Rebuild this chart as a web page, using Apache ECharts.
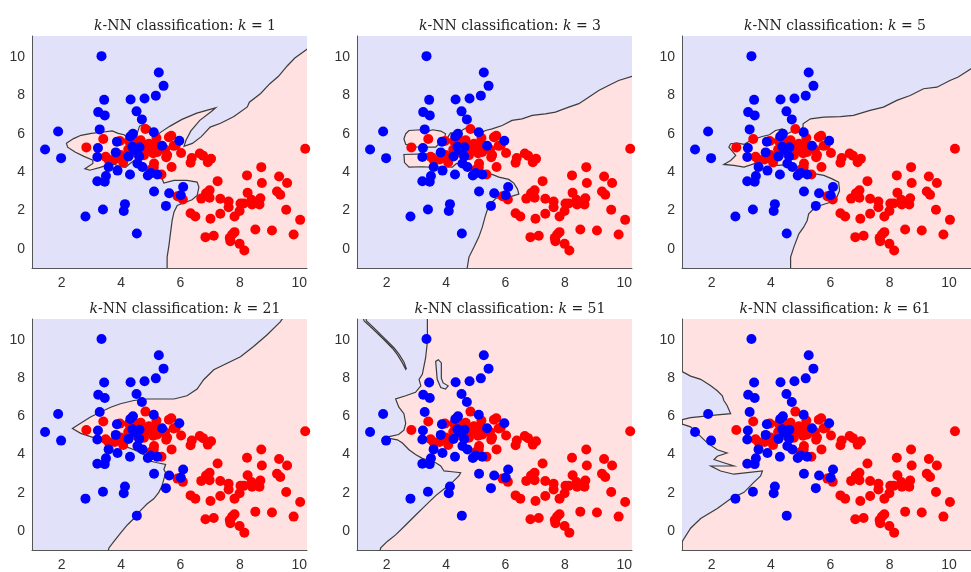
<!DOCTYPE html>
<html>
<head>
<meta charset="utf-8">
<script src="https://cdn.jsdelivr.net/npm/echarts@6/dist/echarts.min.js"></script>
<style>
  html, body { margin: 0; padding: 0; background: #ffffff; }
  #chart { width: 971px; height: 572px; }
</style>
</head>
<body>
<div id="chart"></div>
<script>
// ---- observations (two classes) ----
const blueX = [1.44, 1.88, 1.98, 2.80, 3.34, 3.43, 3.23, 3.45, 3.28, 3.22, 3.20, 3.20, 3.45, 3.49, 3.58, 3.39, 3.86, 3.82, 3.88, 4.13, 4.09, 4.32, 4.79, 4.52, 4.70, 5.17, 5.27, 5.43, 5.10, 4.40, 4.31, 4.38, 4.45, 4.25, 4.30, 4.62, 4.61, 4.55, 4.72, 4.90, 5.00, 5.22, 5.38, 5.11, 5.62, 5.51, 5.96, 6.09, 6.01, 4.53];
const blueY = [5.18, 6.12, 4.73, 1.69, 10.05, 7.77, 7.13, 6.96, 6.23, 5.26, 4.79, 3.52, 3.50, 3.80, 4.27, 2.05, 5.59, 5.03, 4.08, 2.33, 1.97, 7.79, 7.84, 7.17, 6.75, 7.99, 9.20, 8.50, 6.08, 6.00, 5.86, 5.32, 5.16, 4.82, 3.88, 5.30, 4.82, 4.45, 4.27, 3.82, 3.95, 3.88, 5.38, 2.99, 2.90, 2.24, 5.64, 3.22, 2.79, 0.80];

const redX = [2.83, 3.40, 3.48, 3.58, 3.78, 3.84, 3.96, 3.98, 4.07, 4.26, 4.24, 4.37, 4.58, 4.66, 4.82, 4.79, 4.86, 4.77, 4.94, 5.01, 5.06, 5.13, 5.19, 5.08, 5.22, 5.11, 5.10, 5.01, 5.36, 5.48, 5.52, 5.55, 5.61, 5.69, 5.70, 5.77, 5.84, 6.02, 4.50,
  6.38, 6.34, 6.65, 6.76, 6.92, 7.03, 5.90, 6.08,
  10.20, 8.72, 8.24, 7.25, 8.74, 9.32, 9.59, 9.25, 9.36, 8.26, 6.70, 6.86, 6.98, 6.98, 7.34, 7.62, 7.62, 8.02, 8.13, 8.39, 8.41, 8.69, 8.66, 7.99, 7.82, 7.34, 6.34, 6.50, 7.01, 9.56, 10.03, 8.52, 9.08, 9.81, 6.84, 7.12, 7.82, 7.74, 7.66, 7.68, 7.99, 8.15];
const redY = [5.29, 5.73, 4.80, 4.64, 4.66, 4.78, 5.62, 4.89, 4.50, 5.62, 5.18, 5.71, 5.60, 5.66, 6.25, 5.12, 5.30, 4.88, 5.48, 5.22, 5.32, 5.44, 5.78, 4.99, 5.05, 4.45, 4.25, 4.14, 3.88, 5.18, 4.78, 4.89, 5.82, 5.90, 4.27, 5.37, 5.40, 5.00, 5.00,
  4.74, 4.49, 4.97, 4.86, 4.52, 4.70, 2.74, 2.57,
  5.22, 4.26, 3.83, 3.53, 3.43, 3.77, 3.43, 2.99, 2.82, 2.92, 2.62, 2.90, 3.05, 2.66, 2.61, 2.47, 2.17, 2.36, 2.36, 2.56, 2.31, 2.64, 2.31, 1.97, 1.69, 1.83, 1.86, 1.69, 1.57, 2.04, 1.51, 1.01, 0.96, 0.75, 0.61, 0.68, 0.87, 0.75, 0.57, 0.40, 0.26, -0.09];

// ---- panel settings ----
const kValues = [1, 3, 5, 21, 51, 61];
const xTicks = [2, 4, 6, 8, 10];
const yTicks = [0, 2, 4, 6, 8, 10];

// ---- decision boundaries (data units) ----
// k = 1
const k1Edge = [[5.55,-1.5],[5.55,-0.43],[5.61,0.17],[5.66,0.78],[5.72,1.48],[5.78,1.91],[5.89,2.26],[6.17,2.43],[6.39,2.56],[6.56,2.78],[6.62,3.22],[6.56,3.48],[6.22,3.57],[5.78,3.57],[5.44,3.43],[5.38,3.65],[5.31,3.91],
  [5.10,4.08],[4.95,4.05],[4.82,4.20],[4.80,4.40],[4.62,4.62],[4.45,4.62],[4.30,4.45],[4.15,4.25],[3.95,4.30],[3.75,4.42],[3.55,4.38],[3.30,4.25],[2.95,4.10],[2.78,4.18],[3.05,4.45],[3.05,4.62],[2.75,4.82],[2.45,5.05],[2.20,5.30],[2.16,5.50],[2.40,5.75],[2.65,5.92],[3.00,6.02],[3.35,6.08],[3.70,6.15],[3.90,6.02],[4.10,5.95],[4.25,5.75],[4.45,5.80],[4.55,6.05],[4.62,6.40],[4.80,6.50],[4.98,6.35],[5.00,5.98],[5.20,5.92],[5.35,6.10],[5.65,6.40],[6.05,6.75],[6.55,7.08],[7.18,7.35],[7.05,7.18],[6.65,6.70],[6.35,6.15],[6.18,5.65],[6.12,5.35],[6.40,5.50],[6.70,5.85],[7.00,6.35],[7.35,6.55],[7.80,6.90],[8.25,7.40],[8.32,7.65],[8.70,8.10],[9.00,8.60],[9.30,9.00],[9.60,9.55],[9.85,9.95],[10.30,10.45],[10.8,10.9]];
const k1Close = [[11.5,12],[11.5,-2],[5.55,-2]];

// k = 3
const k3Edge = [[4.66,-1.5],[4.77,-0.43],[4.94,0.09],[5.10,0.61],[5.22,1.13],[5.31,1.65],[5.38,2.0],[5.50,2.35],[5.66,2.61],[5.89,2.75],[6.17,2.72],[6.45,2.85],[6.40,3.13],[6.28,3.43],[6.11,3.62],[5.78,3.74],[5.55,3.88],[5.33,3.90],[5.10,4.05],[4.90,4.20],[4.75,4.28],[4.55,4.40],[4.35,4.45],[4.21,4.26],[3.9,4.28],[3.6,4.25],[3.2,4.28],[2.75,4.26],[2.6,4.5],[2.58,4.92],[3.3,4.95],[4.0,4.92],[4.21,4.95],[4.30,5.10],[4.25,5.35],[4.15,5.55],[4.05,5.80],[4.15,6.05],[4.40,6.02],[4.55,6.20],[4.77,6.38],[4.90,6.12],[5.15,6.02],[5.33,6.17],[5.55,6.26],[5.89,6.43],[6.22,6.70],[6.56,6.78],[6.90,6.96],[7.34,7.04],[7.68,7.13],[8.13,7.39],[8.47,7.57],[8.80,7.91],[9.14,8.26],[9.47,8.52],[9.81,8.78],[10.26,8.99],[10.8,9.1]];
const k3Close = [[11.5,12],[11.5,-2],[4.66,-2]];
const k3Island = [[2.64,6.0],[2.75,6.17],[3.14,6.21],[3.31,6.09],[3.54,6.21],[3.82,6.14],[3.98,6.0],[3.93,5.65],[3.76,5.48],[3.65,5.30],[3.31,5.30],[2.95,5.32],[2.64,5.45],[2.58,5.74]];

// k = 5
const k5Edge = [[4.66,-1.5],[4.66,-0.43],[4.77,0.09],[4.94,0.78],[5.10,1.13],[5.22,1.48],[5.27,1.83],[5.44,2.09],[5.66,2.26],[6.0,2.43],[6.22,2.70],[6.31,3.04],[6.28,3.48],[6.06,3.65],[5.78,3.83],[5.50,3.91],[5.30,3.95],[5.10,4.09],[4.77,4.30],[4.50,4.38],[4.21,4.35],[3.76,4.61],[3.42,4.43],[3.09,4.26],[2.75,4.35],[2.41,4.40],[2.64,4.61],[2.81,4.87],[2.58,5.30],[2.64,5.48],[2.86,5.51],[3.10,5.45],[3.31,5.65],[3.70,5.86],[3.95,5.95],[4.15,6.17],[4.38,6.26],[4.55,6.0],[4.77,6.17],[4.95,6.15],[5.08,6.35],[5.08,6.52],[5.33,6.78],[5.78,6.87],[6.34,6.90],[6.78,6.96],[7.34,7.22],[7.79,7.39],[8.24,7.74],[8.69,8.0],[9.14,8.35],[9.59,8.43],[10.03,8.78],[10.31,8.96],[10.74,9.39],[11.2,9.7]];
const k5Close = [[11.5,12],[11.5,-2],[4.66,-2]];

// k = 21
const k21Edge = [[3.5,-1.5],[3.59,-0.89],[3.76,-0.55],[3.98,-0.12],[4.21,0.31],[4.43,0.65],[4.66,1.08],[4.88,1.42],[5.10,1.68],[5.27,2.02],[5.38,2.37],[5.44,2.71],[5.50,3.05],[5.44,3.22],[5.50,3.48],[5.22,3.57],[5.0,3.65],[4.88,3.91],[4.66,4.08],[4.43,4.25],[4.15,4.43],[3.65,4.63],[3.31,4.77],[2.97,4.94],[2.64,5.11],[2.36,5.37],[2.53,5.54],[2.97,5.97],[3.31,6.23],[3.65,6.48],[3.98,6.66],[4.43,6.83],[4.88,6.91],[5.33,6.91],[5.78,6.91],[6.22,7.08],[6.56,7.43],[6.78,7.92],[7.12,8.44],[7.57,8.78],[8.02,9.12],[8.46,9.66],[8.91,10.26],[9.36,10.95],[9.6,11.5]];
const k21Close = [[11.5,12],[11.5,-2],[3.5,-2]];

// k = 51
const k51Edge = [[1.7,-1.5],[1.80,-0.89],[2.02,-0.55],[2.30,-0.21],[2.64,0.31],[2.97,0.82],[3.31,1.34],[3.65,1.85],[3.93,2.20],[4.21,2.54],[4.43,2.88],[4.49,3.05],[4.2,3.1],[3.93,3.14],[3.82,3.40],[3.65,3.57],[3.2,3.8],[2.97,4.0],[2.75,4.25],[2.53,4.60],[2.36,4.77],[2.08,4.85],[1.94,4.89],[2.08,4.94],[2.4,5.05],[2.58,5.28],[2.64,5.63],[2.58,6.14],[2.41,6.48],[2.30,6.91],[2.64,7.08],[2.97,7.26],[3.15,7.6],[3.09,7.94],[3.20,8.2],[3.31,9.06],[3.37,9.91],[3.37,10.98],[3.37,11.5]];
const k51Close = [[11.5,12],[11.5,-2],[1.7,-2]];
const k51Sliver = [[1.15,11.5],[1.24,11.0],[1.52,10.6],[1.86,10.09],[2.19,9.57],[2.36,9.23],[2.53,8.80],[2.64,8.46],[2.66,8.50],[2.58,8.85],[2.42,9.25],[2.25,9.58],[1.92,10.10],[1.58,10.62],[1.32,11.0],[1.25,11.5]];
const k51Inlet = [[3.65,8.88],[3.70,7.94],[3.82,7.51],[3.98,7.43],[4.07,7.60],[3.90,7.75],[3.84,8.0],[3.84,8.80],[3.74,8.97]];

// k = 61
const k61Upper = [[0.5,8.40],[1.01,8.34],[1.29,8.11],[1.63,7.94],[1.97,7.60],[2.19,7.34],[2.36,7.08],[2.41,6.83],[2.52,6.57],[2.64,6.14],[2.19,6.08],[1.7,6.0],[1.29,5.93],[1.01,5.83],[0.5,5.83]];
const k61Lower = [[0.5,5.62],[1.01,5.59],[1.29,5.45],[1.52,5.11],[1.86,4.60],[2.19,4.25],[2.52,4.08],[2.19,3.91],[2.08,3.74],[2.41,3.57],[2.75,3.40],[1.97,3.40],[2.30,3.14],[2.75,2.97],[3.20,3.05],[3.71,3.14],[3.65,2.88],[3.42,2.54],[3.09,2.02],[2.64,1.68],[2.19,1.17],[1.63,0.65],[1.29,0.14],[1.01,-0.55],[0.8,-0.9],[0.5,-0.9]];

// ---- layout ----
const LAV = '#e1e1fa';
const PINK = '#ffe1e1';
const EDGE = '#3c3c3c';

const panels = [
  { k: kValues[0], col: 0, row: 0, base: 'blue', regions: [{ cls: 'red', edge: k1Edge, close: k1Close }] },
  { k: kValues[1], col: 1, row: 0, base: 'blue', regions: [{ cls: 'red', edge: k3Edge, close: k3Close }, { cls: 'red', edge: k3Island, close: [] }] },
  { k: kValues[2], col: 2, row: 0, base: 'blue', regions: [{ cls: 'red', edge: k5Edge, close: k5Close }] },
  { k: kValues[3], col: 0, row: 1, base: 'blue', regions: [{ cls: 'red', edge: k21Edge, close: k21Close }] },
  { k: kValues[4], col: 1, row: 1, base: 'blue', regions: [{ cls: 'red', edge: k51Edge, close: k51Close }, { cls: 'red', edge: k51Sliver, close: [] }, { cls: 'blue', edge: k51Inlet, close: [] }] },
  { k: kValues[5], col: 2, row: 1, base: 'red', regions: [{ cls: 'blue', edge: k61Upper, close: [], open: true }, { cls: 'blue', edge: k61Lower, close: [], open: true }] }
];

const colLeft = [32, 357, 682];
const colWidth = [275, 275, 289];
const colXMax = [10.26, 10.26, 10.74];
const rowTop = [36, 319];
const rowHeight = [232, 231];

const grids = [], xAxes = [], yAxes = [], series = [], titles = [];

const bluePts = blueX.map((x, i) => [x, blueY[i]]);
const redPts = redX.map((x, i) => [x, redY[i]]);

panels.forEach((p, i) => {
  grids.push({
    left: colLeft[p.col], top: rowTop[p.row], width: colWidth[p.col], height: rowHeight[p.row],
    show: true, backgroundColor: p.base === 'blue' ? LAV : PINK, borderWidth: 0
  });
  xAxes.push({
    type: 'value', gridIndex: i, min: 1, max: colXMax[p.col],
    axisLine: { show: true, onZero: false, lineStyle: { color: '#555', width: 1 } },
    axisTick: { show: false },
    splitLine: { show: false },
    axisLabel: { customValues: xTicks, margin: 8, color: '#333', fontSize: 14, fontFamily: 'Liberation Sans' }
  });
  yAxes.push({
    type: 'value', gridIndex: i, min: -1, max: 11.1,
    axisLine: { show: true, onZero: false, lineStyle: { color: '#555', width: 1 } },
    axisTick: { show: false },
    splitLine: { show: false },
    axisLabel: { customValues: yTicks, margin: 7, color: '#333', fontSize: 14, fontFamily: 'Liberation Sans' }
  });
  titles.push({
    text: '{i|k}-NN classification: {i|k} = ' + p.k,
    left: colLeft[p.col] + 148, top: p.row === 0 ? 14 : 297, textAlign: 'center',
    textStyle: {
      fontFamily: 'DejaVu Serif', fontSize: 14, fontWeight: 'normal', color: '#222',
      rich: { i: { fontFamily: 'DejaVu Serif', fontSize: 14, fontStyle: 'italic', color: '#222' } }
    }
  });
  const regions = p.regions;
  series.push({
    type: 'custom', xAxisIndex: i, yAxisIndex: i, coordinateSystem: 'cartesian2d',
    clip: true, silent: true, z: 1, data: [[5, 5]],
    renderItem: (params, api) => {
      const children = [];
      regions.forEach(r => {
        const pts = r.edge.concat(r.close).map(q => api.coord(q));
        children.push({ type: 'polygon', shape: { points: pts }, style: { fill: r.cls === 'red' ? PINK : LAV, stroke: null } });
      });
      regions.forEach(r => {
        const pts = r.edge.map(q => api.coord(q));
        const closed = r.close.length === 0 && !r.open;
        children.push({ type: closed ? 'polygon' : 'polyline', shape: { points: pts },
          style: { fill: null, stroke: EDGE, lineWidth: 1.2 } });
      });
      return { type: 'group', children: children };
    }
  });
  series.push({
    type: 'scatter', xAxisIndex: i, yAxisIndex: i, data: redPts, symbolSize: 10, z: 3,
    itemStyle: { color: '#ff0000', opacity: 1 }, silent: true
  });
  series.push({
    type: 'scatter', xAxisIndex: i, yAxisIndex: i, data: bluePts, symbolSize: 10, z: 4,
    itemStyle: { color: '#0000ff', opacity: 1 }, silent: true
  });
});

const chart = echarts.init(document.getElementById('chart'));
chart.setOption({
  animation: false,
  title: titles,
  grid: grids,
  xAxis: xAxes,
  yAxis: yAxes,
  series: series
});
</script>
</body>
</html>
